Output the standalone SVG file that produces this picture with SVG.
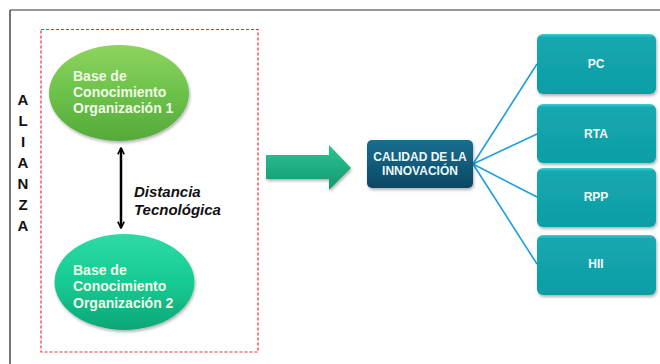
<svg xmlns="http://www.w3.org/2000/svg" width="660" height="364" viewBox="0 0 660 364">
<defs>
<style>
.t{font-family:"Liberation Sans",Arial,sans-serif;font-weight:bold}
.ell{font-size:14px;fill:#f2f8e8}
.box{font-size:12px;fill:#eef8f8;text-anchor:middle}
.side{font-size:15px;fill:#111;text-anchor:middle}
.conn{stroke:#1b9fde;stroke-width:1.6;fill:none}
</style>
<linearGradient id="g1" x1="0" y1="0" x2="0" y2="1">
<stop offset="0" stop-color="#8ed35e"/><stop offset="0.5" stop-color="#6cc24a"/><stop offset="1" stop-color="#55a93a"/>
</linearGradient>
<linearGradient id="g2" x1="0" y1="0" x2="0" y2="1">
<stop offset="0" stop-color="#2edaa6"/><stop offset="0.5" stop-color="#16cb94"/><stop offset="1" stop-color="#0ca676"/>
</linearGradient>
<linearGradient id="gb" x1="0" y1="0" x2="0" y2="1">
<stop offset="0" stop-color="#1a6e90"/><stop offset="1" stop-color="#0a4864"/>
</linearGradient>
<linearGradient id="gt" x1="0" y1="0" x2="0" y2="1">
<stop offset="0" stop-color="#3ccfd6"/><stop offset="0.06" stop-color="#14a8b0"/><stop offset="1" stop-color="#0f9da5"/>
</linearGradient>
<linearGradient id="ga" x1="0" y1="0" x2="0" y2="1">
<stop offset="0" stop-color="#2cc495"/><stop offset="1" stop-color="#13976f"/>
</linearGradient>
<filter id="sh" x="-10%" y="-10%" width="125%" height="130%">
<feDropShadow dx="1" dy="2" stdDeviation="1.5" flood-color="#000" flood-opacity="0.3"/>
</filter>
<marker id="ah" viewBox="0 0 10 10" refX="9" refY="5" markerWidth="8" markerHeight="8" markerUnits="userSpaceOnUse" orient="auto-start-reverse">
<path d="M1,1 L9,5 L1,9" fill="none" stroke="#000" stroke-width="2"/>
</marker>
</defs>
<rect width="660" height="364" fill="#fff"/>
<line x1="10" y1="10" x2="660" y2="10" stroke="#777" stroke-width="1.5"/>
<line x1="10" y1="10" x2="10" y2="364" stroke="#444" stroke-width="1.5"/>
<rect x="41" y="29.5" width="217" height="322.5" fill="none" stroke="#f52a2a" stroke-width="1.2" stroke-dasharray="3,2"/>
<g id="alianza">
<text class="t side" x="23" y="105">A</text>
<text class="t side" x="23" y="126">L</text>
<text class="t side" x="23" y="147">I</text>
<text class="t side" x="23" y="168">A</text>
<text class="t side" x="23" y="189">N</text>
<text class="t side" x="23" y="210">Z</text>
<text class="t side" x="23" y="231">A</text>
</g>
<g id="connectors">
<line x1="121" y1="148" x2="121" y2="228" stroke="#000" stroke-width="2.5" marker-start="url(#ah)" marker-end="url(#ah)"/>
<path class="conn" d="M473,164 L537,64"/>
<path class="conn" d="M473,164 L537,134"/>
<path class="conn" d="M473,164 L537,197"/>
<path class="conn" d="M473,164 L537,264"/>
<path d="M266,155 H329 V145 L351,168 L329,190 V179 H266 Z" fill="url(#ga)" filter="url(#sh)"/>
</g>
<g id="org1">
<ellipse cx="119" cy="93" rx="70" ry="48" fill="url(#g1)" filter="url(#sh)"/>
<text class="t ell" x="73" y="81">Base de</text>
<text class="t ell" x="73" y="97">Conocimiento</text>
<text class="t ell" x="73" y="113">Organización 1</text>
</g>
<g id="org2">
<ellipse cx="124.5" cy="282" rx="70" ry="48" fill="url(#g2)" filter="url(#sh)"/>
<text class="t ell" x="73" y="275">Base de</text>
<text class="t ell" x="73" y="291">Conocimiento</text>
<text class="t ell" x="73" y="308">Organización 2</text>
</g>
<g id="distancia">
<text class="t" x="134" y="197" font-size="15" font-style="italic" fill="#111">Distancia</text>
<text class="t" x="134" y="215" font-size="15" font-style="italic" fill="#111">Tecnológica</text>
</g>
<g id="calidad">
<rect x="367" y="140" width="106" height="48" rx="5" fill="url(#gb)" filter="url(#sh)"/>
<text class="t box" x="420" y="161" font-size="12.5">CALIDAD DE LA</text>
<text class="t box" x="420" y="175" font-size="12.5">INNOVACIÓN</text>
</g>
<g id="pc">
<rect x="537" y="34" width="119" height="60" rx="6" fill="url(#gt)" filter="url(#sh)"/>
<text class="t box" x="596" y="68">PC</text>
</g>
<g id="rta">
<rect x="537" y="104" width="119" height="59" rx="6" fill="url(#gt)" filter="url(#sh)"/>
<text class="t box" x="596" y="138">RTA</text>
</g>
<g id="rpp">
<rect x="537" y="168" width="119" height="59" rx="6" fill="url(#gt)" filter="url(#sh)"/>
<text class="t box" x="596" y="201">RPP</text>
</g>
<g id="hii">
<rect x="537" y="235" width="119" height="60" rx="6" fill="url(#gt)" filter="url(#sh)"/>
<text class="t box" x="596" y="268">HII</text>
</g>
</svg>
